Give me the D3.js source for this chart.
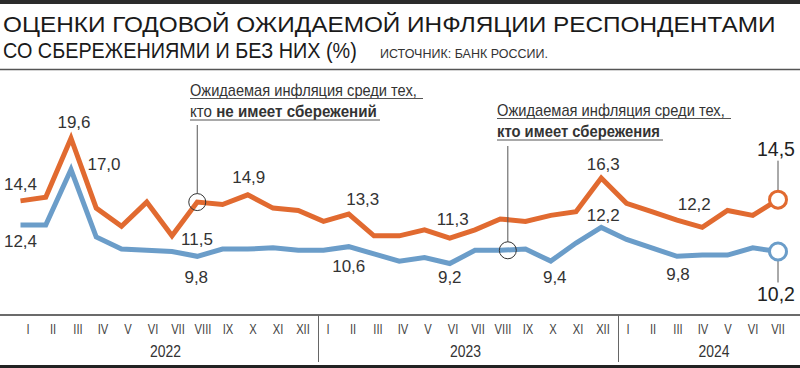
<!DOCTYPE html>
<html><head><meta charset="utf-8">
<script src="https://cdn.jsdelivr.net/npm/d3@7"></script>
<style>
html,body{margin:0;padding:0;background:#fff;}
svg{display:block;}
text{font-family:"Liberation Sans",Arial,Helvetica,sans-serif;}
</style></head><body>
<svg id="c" width="800" height="368"></svg>
<script>
// ---------------- DATA ----------------
const monthLabels = ["I","II","III","IV","V","VI","VII","VIII","IX","X","XI","XII",
                     "I","II","III","IV","V","VI","VII","VIII","IX","X","XI","XII",
                     "I","II","III","IV","V","VI","VII"];
const years = ["2022","2023","2024"];
const yearStart = [0,12,24];
// Ожидаемая инфляция: без сбережений (orange) и со сбережениями (blue), %
const noSavings   = [14.4,14.7,19.6,13.8,12.3,14.3,11.5,14.3,14.1,14.9,13.8,13.6,
                     12.7,13.3,11.5,11.5,12.0,11.3,12.0,12.9,12.7,13.2,13.5,16.3,
                     14.2,13.5,12.8,12.2,13.6,13.2,14.5];
const withSavings = [12.4,12.4,17.0,11.4,10.4,10.3,10.2,9.8,10.4,10.4,10.5,10.3,
                     10.3,10.6,10.0,9.4,9.7,9.2,10.3,10.3,10.4,9.4,10.9,12.2,
                     11.2,10.5,9.8,9.9,9.9,10.5,10.2];
const noSavingsLabelIdx   = [0,2,6,9,13,17,23,27,30];
const withSavingsLabelIdx = [0,2,7,13,17,21,23,26,30];

const titleLines = ["ОЦЕНКИ ГОДОВОЙ ОЖИДАЕМОЙ ИНФЛЯЦИИ РЕСПОНДЕНТАМИ","СО СБЕРЕЖЕНИЯМИ И БЕЗ НИХ (%)"];
const sourceText = "ИСТОЧНИК: БАНК РОССИИ.";

// ---------------- LAYOUT ----------------
const W = 800, H = 368;
const ORANGE = "#e16a30", BLUE = "#6b9dc9", INK = "#2a2a2a";
const svg = d3.select("#c");
const x = d3.scaleLinear().domain([0,30]).range([20.5,778]);
const xl = d3.scaleLinear().domain([0,30]).range([28,778]);
const y = d3.scaleLinear().domain([8,20]).range([278.0,133.4]);
const fmt = v => d3.format(".1f")(v).replace(".",",");

function fitText(sel, tx, ty, width){
  const w = sel.node().getComputedTextLength();
  sel.attr("transform",`translate(${tx},${ty}) scale(${width/w},1)`);
}

// top bar, separators
svg.append("rect").attr("x",0).attr("y",0).attr("width",W).attr("height",4).attr("fill","#2b2b2b");
svg.append("line").attr("x1",0).attr("x2",W).attr("y1",69.5).attr("y2",69.5).attr("stroke","#555").attr("stroke-width",1.5);
svg.append("rect").attr("x",0).attr("y",365).attr("width",W).attr("height",3).attr("fill","#222");

// title
const t1 = svg.append("text").attr("font-size",22).attr("fill","#1a1a1a").text(titleLines[0]);
fitText(t1,3,32,773);
const t2 = svg.append("text").attr("font-size",22).attr("fill","#1a1a1a").text(titleLines[1]);
fitText(t2,3,58,354);
const t3 = svg.append("text").attr("font-size",13).attr("fill","#333").text(sourceText);
fitText(t3,380,58,168);

// axis
svg.append("line").attr("x1",0).attr("x2",W).attr("y1",315).attr("y2",315).attr("stroke","#6b6b6b").attr("stroke-width",2);
yearStart.slice(1).forEach(s=>{
  const xx = Math.round(xl(s-0.4))+0.5;
  svg.append("line").attr("x1",xx).attr("x2",xx).attr("y1",315).attr("y2",362).attr("stroke","#666").attr("stroke-width",1);
});
monthLabels.forEach((m,i)=>{
  svg.append("text").attr("text-anchor","middle").attr("font-size",14).attr("fill","#444")
    .attr("transform",`translate(${xl(i)},333.5) scale(0.8,1)`).text(m);
});
years.forEach((yr,k)=>{
  const a = xl(yearStart[k]);
  const b = k<2 ? xl(yearStart[k]+11) : W;
  svg.append("text").attr("text-anchor","middle").attr("font-size",17).attr("fill","#333")
    .attr("transform",`translate(${(a+b)/2},357) scale(0.82,1)`).text(yr);
});

// lines
const line = d3.line().x((d,i)=>x(i)).y(d=>y(d));
[[withSavings,BLUE],[noSavings,ORANGE]].forEach(([data,col])=>{
  svg.append("path").datum(data).attr("d",line).attr("fill","none")
    .attr("stroke",col).attr("stroke-width",5).attr("stroke-linejoin","miter").attr("stroke-miterlimit",3);
});

// value labels (offset from point: dx, dy to baseline)
const oOff = {0:[0,-11],2:[3,-10],6:[25,9],9:[1,-12],13:[14,-9],17:[3,-13],23:[2,-8],27:[-8,-17]};
const bOff = {0:[0,22],2:[33,0],7:[-1,27],13:[0,25],17:[0,19],21:[4,22],23:[2,-6],26:[1,24]};
function valueLabels(data, idx, off){
  idx.filter(i=>off[i]).forEach(i=>{
    svg.append("text").attr("text-anchor","middle").attr("font-size",17).attr("fill","#333")
      .attr("x",x(i)+off[i][0]).attr("y",y(data[i])+off[i][1]).text(fmt(data[i]));
  });
}
valueLabels(noSavings, noSavingsLabelIdx, oOff);
valueLabels(withSavings, withSavingsLabelIdx, bOff);

// end markers
const last = noSavings.length-1;
const ox = x(last), oy = y(noSavings[last]), by = y(withSavings[last]);
svg.append("line").attr("x1",ox).attr("x2",ox).attr("y1",oy-39).attr("y2",oy-9).attr("stroke","#555").attr("stroke-width",1);
svg.append("line").attr("x1",ox).attr("x2",ox).attr("y1",by+9).attr("y2",by+31).attr("stroke","#555").attr("stroke-width",1);
svg.append("circle").attr("cx",ox).attr("cy",oy).attr("r",8.5).attr("fill","#fff").attr("stroke",ORANGE).attr("stroke-width",3);
svg.append("circle").attr("cx",ox).attr("cy",by).attr("r",8.5).attr("fill","#fff").attr("stroke",BLUE).attr("stroke-width",3);
svg.append("text").attr("text-anchor","middle").attr("font-size",19.5).attr("fill","#222")
  .attr("x",ox-2).attr("y",oy-44).text(fmt(noSavings[last]));
svg.append("text").attr("text-anchor","middle").attr("font-size",19.5).attr("fill","#222")
  .attr("x",ox-2).attr("y",by+50).text(fmt(withSavings[last]));

// annotations
function annotation(ax, y1, y2, w1, w2, line2parts, px, pyTop, cy){
  const a1 = svg.append("text").attr("font-size",16).attr("fill","#333").text("Ожидаемая инфляция среди тех,");
  fitText(a1, ax, y1, w1);
  const a2 = svg.append("text").attr("font-size",16).attr("fill","#333");
  line2parts.forEach(p=>a2.append("tspan").attr("font-weight",p[1]?"bold":"normal").text(p[0]));
  fitText(a2, ax, y2, w2);
  svg.append("line").attr("x1",ax).attr("x2",ax+w1+6).attr("y1",y1+2.5).attr("y2",y1+2.5).attr("stroke","#555").attr("stroke-width",1);
  svg.append("line").attr("x1",ax).attr("x2",ax+w2+3).attr("y1",y2+3).attr("y2",y2+3).attr("stroke","#555").attr("stroke-width",1);
  svg.append("line").attr("x1",px).attr("x2",px).attr("y1",pyTop).attr("y2",cy-8.5).attr("stroke","#555").attr("stroke-width",1);
  svg.append("circle").attr("cx",px).attr("cy",cy).attr("r",8.5).attr("fill","none").attr("stroke","#333").attr("stroke-width",1);
}
annotation(190, 96, 117, 227, 187, [["кто ",false],["не имеет сбережений",true]], x(7), 125, y(noSavings[7]));
annotation(497, 116, 137, 228, 163, [["кто имеет сбережения",true]], x(19.3), 146, y(10.3));
</script>
</body></html>
